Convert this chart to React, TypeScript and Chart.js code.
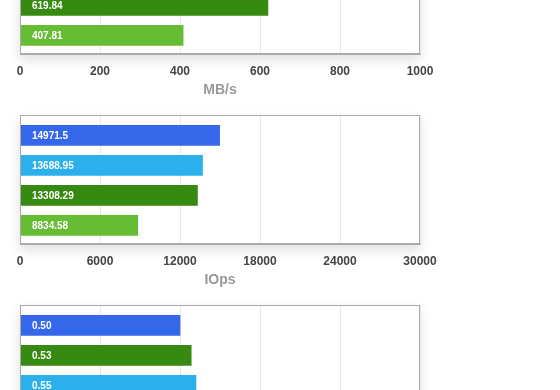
import React, { useEffect, useRef } from 'react';
import { Chart, registerables } from 'chart.js';

Chart.register(...registerables);

const BLUE = '#3467EA';
const CYAN = '#2BB0EB';
const DKGREEN = '#368A11';
const LTGREEN = '#66BC33';

// Panel 1 (MB/s) – only the lower two bars are visible in the picture
const mbRows = [2, 3];
const mbValues = [619.84, 407.81];
const mbColors = [DKGREEN, LTGREEN];
const mbMax = 1000;
const mbStep = 200;
const mbTitle = 'MB/s';

// Panel 2 (IOps)
const iopsRows = [0, 1, 2, 3];
const iopsValues = [14971.5, 13688.95, 13308.29, 8834.58];
const iopsColors = [BLUE, CYAN, DKGREEN, LTGREEN];
const iopsMax = 30000;
const iopsStep = 6000;
const iopsTitle = 'IOps';

// Panel 3 (latency) – cut off at the bottom
const latRows = [0, 1, 2];
const latValues = [0.5, 0.535, 0.55];
const latColors = [BLUE, DKGREEN, CYAN];
const latMax = 1.25;
const latStep = 0.25;
const latTitle = '';

const FONT = '"Liberation Sans", Arial, Helvetica, sans-serif';

const fmtRaw = (v: number) => String(v);
const fmt2 = (v: number) => (Math.floor(v * 100 + 1e-9) / 100).toFixed(2);

const framePlugin = {
  id: 'frame',
  beforeDraw(chart: any) {
    const { ctx, chartArea: a } = chart;
    ctx.save();
    ctx.shadowColor = 'rgba(0,0,0,0.13)';
    ctx.shadowBlur = 12;
    ctx.shadowOffsetY = 6;
    ctx.fillStyle = '#ffffff';
    ctx.fillRect(a.left, a.top, a.right - a.left, a.bottom - a.top);
    ctx.restore();
  },
  afterDatasetsDraw(chart: any, _args: any, opts: any) {
    const { ctx, chartArea: a } = chart;
    const meta = chart.getDatasetMeta(0);
    const ds = chart.data.datasets[0];
    ctx.save();
    ctx.fillStyle = '#ffffff';
    ctx.font = 'bold 10px ' + FONT;
    ctx.textBaseline = 'middle';
    ctx.textAlign = 'left';
    meta.data.forEach((el: any, i: number) => {
      const v = ds.data[i].x;
      ctx.fillText(opts.fmt(v), a.left + 12, el.y + 0.5);
    });
    ctx.strokeStyle = '#aaaaaa';
    ctx.lineWidth = 1;
    ctx.strokeRect(Math.round(a.left) + 0.5, Math.round(a.top) + 0.5, Math.round(a.right - a.left) - 1, Math.round(a.bottom - a.top) - 1);
    ctx.restore();
  },
};

type PanelProps = {
  top: number;
  rows: number[];
  values: number[];
  colors: string[];
  max: number;
  step: number;
  title: string;
  fmt: (v: number) => string;
};

function BarPanel({ top, rows, values, colors, max, step, title, fmt }: PanelProps) {
  const ref = useRef<HTMLCanvasElement | null>(null);
  useEffect(() => {
    if (!ref.current) return;
    const chart = new Chart(ref.current, {
      type: 'bar',
      data: {
        datasets: [
          {
            data: rows.map((r, i) => ({ x: values[i], y: r })),
            backgroundColor: colors,
            borderWidth: 0,
            barThickness: 20,
          } as any,
        ],
      },
      options: {
        indexAxis: 'y',
        animation: false,
        responsive: false,
        layout: { padding: { left: 20, right: 140, top: 15, bottom: 0 } },
        plugins: {
          legend: { display: false },
          tooltip: { enabled: false },
          frame: { fmt },
        } as any,
        scales: {
          x: {
            type: 'linear',
            min: 0,
            max,
            ticks: {
              stepSize: step,
              color: '#444444',
              font: { family: FONT, size: 12, weight: 'bold' },
              padding: 10,
              callback: (v: any) => String(Number(v)),
            },
            grid: { color: '#e8e8e8', drawTicks: false },
            border: { color: '#aaaaaa' },
            title: {
              display: !!title,
              text: title,
              color: '#999999',
              font: { family: FONT, size: 14, weight: 'bold' },
              padding: { top: 0, bottom: 1 },
            },
            afterFit: (s: any) => {
              s.height = 46;
            },
          },
          y: {
            type: 'linear',
            min: -0.68,
            max: 3.62,
            reverse: true,
            offset: false,
            display: false,
          },
        },
      } as any,
      plugins: [framePlugin],
    });
    return () => chart.destroy();
  }, []);
  return (
    <canvas
      ref={ref}
      width={560}
      height={190}
      style={{ position: 'absolute', left: 0, top, width: 560, height: 190 }}
    />
  );
}

export default function App() {
  return (
    <div
      style={{
        position: 'absolute',
        left: 0,
        top: 0,
        width: 560,
        height: 390,
        overflow: 'hidden',
        background: '#ffffff',
      }}
    >
      <BarPanel top={-90} rows={mbRows} values={mbValues} colors={mbColors} max={mbMax} step={mbStep} title={mbTitle} fmt={fmtRaw} />
      <BarPanel top={100} rows={iopsRows} values={iopsValues} colors={iopsColors} max={iopsMax} step={iopsStep} title={iopsTitle} fmt={fmtRaw} />
      <BarPanel top={290} rows={latRows} values={latValues} colors={latColors} max={latMax} step={latStep} title={latTitle} fmt={fmt2} />
    </div>
  );
}
